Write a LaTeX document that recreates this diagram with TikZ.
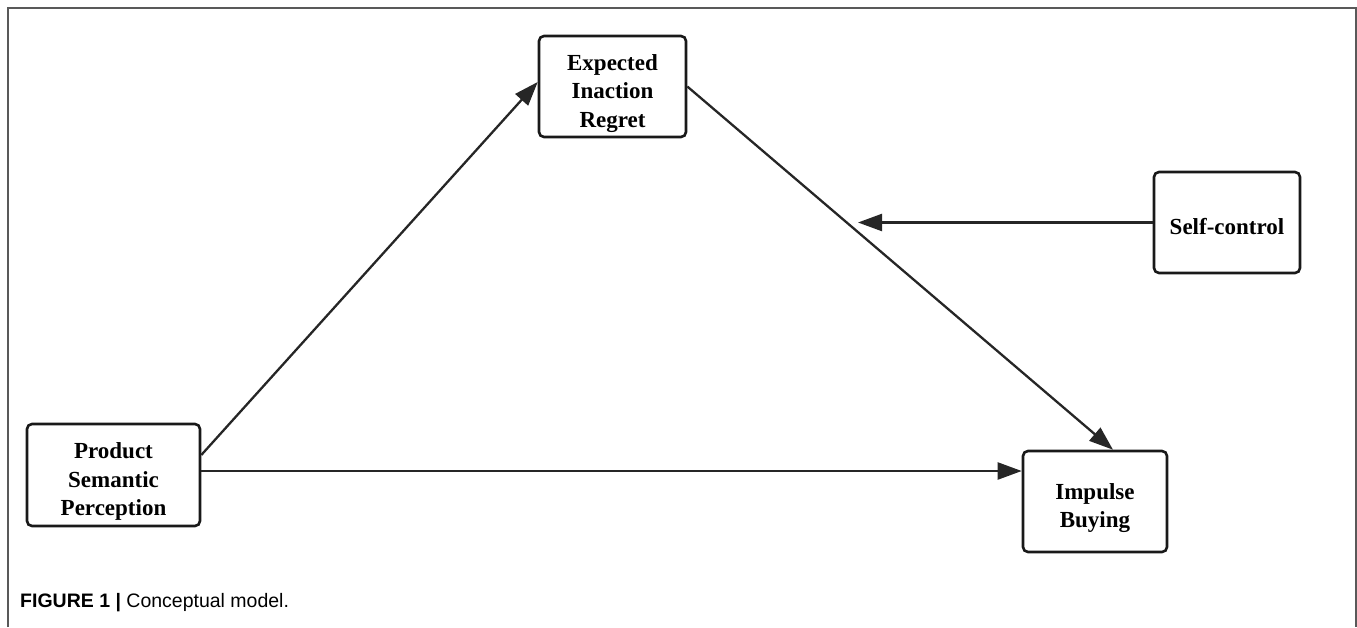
\documentclass[tikz,border=0pt]{standalone}
\usepackage{fontspec}
\setmainfont{Liberation Serif}
\newfontfamily\capfont{Liberation Sans}
\usetikzlibrary{arrows.meta}
\newcommand{\lowtext}[1]{\raisebox{-6.5pt}[\height][\depth]{\begin{tabular}{@{}c@{}}#1\end{tabular}}}
\begin{document}
\begin{tikzpicture}[x=1pt,y=-1pt,
  box/.style={draw=black!90,line width=2.6pt,rounded corners=5pt,fill=white,
    align=center,inner sep=0pt,font=\fontsize{23}{28.5}\selectfont\bfseries},
  conn/.style={line width=2.3pt,draw=black!85,-{Triangle[length=24pt,width=17pt]}},
  frame/.style={draw=black!65,line width=2pt}]
\useasboundingbox (0,0) rectangle (1357,627);
\draw[frame] (8,627) -- (8,8) -- (1356,8) -- (1356,627);
\node[box,minimum width=147pt,minimum height=101pt] (eir) at (612.5,86.5) {\lowtext{Expected\\Inaction\\Regret}};
\node[box,minimum width=146pt,minimum height=101pt] (sc) at (1227,222.5) {\lowtext{Self-control}};
\node[box,minimum width=173pt,minimum height=102pt] (psp) at (113.5,475) {\lowtext{Product\\Semantic\\Perception}};
\node[box,minimum width=144pt,minimum height=101pt] (ib) at (1095,501.5) {\lowtext{Impulse\\Buying}};
\coordinate (m) at (858,222.5);
\draw[conn] ([yshift=20pt]psp.east) -- ([yshift=4.5pt]eir.west);
\draw[conn] ([yshift=4pt]psp.east) -- ([yshift=4pt]psp.east -| ib.west);
\draw[conn] (eir.east) -- ([xshift=18pt]ib.north);
\draw[conn] (sc.west) -- (m);
\node[anchor=base west,inner sep=0pt,font=\capfont\fontsize{19.5}{22}\selectfont] (cap) at (20,607)
  {\textbf{FIGURE 1} \textbf{|} Conceptual model.};
\end{tikzpicture}
\end{document}
